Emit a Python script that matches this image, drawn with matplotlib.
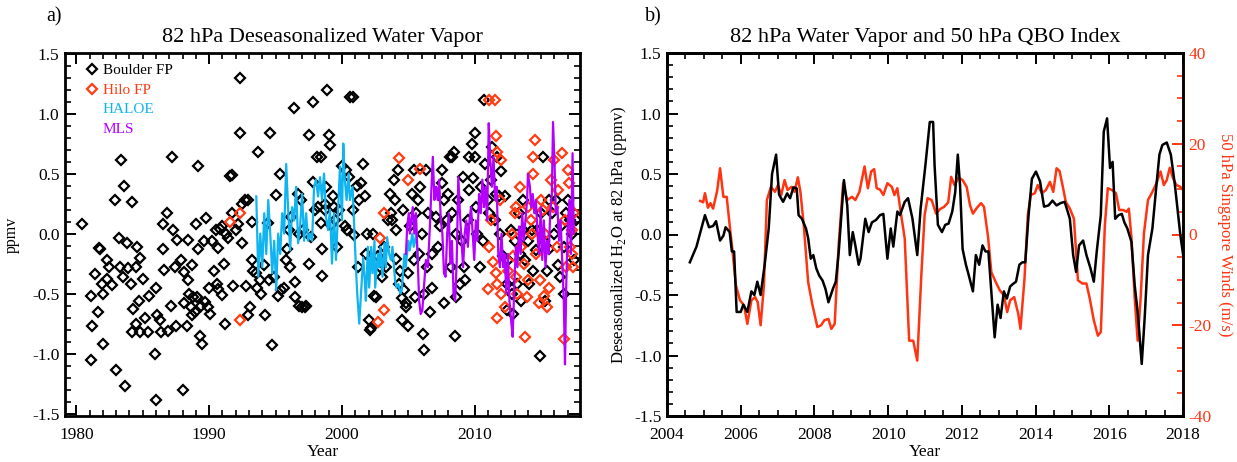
import matplotlib
matplotlib.use('Agg')
import matplotlib.pyplot as plt
from matplotlib.ticker import MultipleLocator, FormatStrFormatter
from matplotlib.lines import Line2D

plt.rcParams['font.family'] = ['Liberation Serif', 'DejaVu Serif']
plt.rcParams['mathtext.fontset'] = 'custom'
plt.rcParams['mathtext.rm'] = 'Liberation Serif'
plt.rcParams['axes.unicode_minus'] = False

# ---------------- data: panel a ----------------
boulder_fp = [
    (1980.4, 0.08), (1981.1, -1.05), (1981.1, -0.52), (1981.2, -0.77), (1981.4, -0.34), (1981.6, -0.65),
    (1981.7, -0.12), (1981.8, -0.13), (1981.9, -0.42), (1982.0, -0.50), (1982.0, -0.92), (1982.3, -0.22),
    (1982.3, -0.38), (1982.5, -0.28), (1982.7, -0.43), (1982.9, 0.28), (1983.0, -1.14), (1983.2, -0.04),
    (1983.3, -0.28), (1983.4, 0.61), (1983.5, -0.36), (1983.6, 0.40), (1983.7, -1.27), (1983.8, -0.08),
    (1983.9, -0.29), (1984.1, -0.42), (1984.2, 0.26), (1984.2, -0.82), (1984.3, -0.63), (1984.5, -0.75),
    (1984.5, -0.28), (1984.6, -0.11), (1984.7, -0.56), (1984.8, -0.20), (1984.8, -0.82), (1985.0, -0.38),
    (1985.2, -0.70), (1985.4, -0.82), (1985.5, -0.52), (1985.9, -1.00), (1986.0, -0.45), (1986.0, -1.39),
    (1986.1, -0.68), (1986.3, -0.72), (1986.4, -0.82), (1986.5, 0.08), (1986.5, -0.13), (1986.6, -0.30),
    (1986.8, 0.17), (1986.9, -0.81), (1987.1, -0.60), (1987.2, 0.64), (1987.3, 0.03), (1987.4, -0.28),
    (1987.5, -0.77), (1987.6, -0.05), (1987.9, -0.22), (1988.0, -1.30), (1988.1, -0.32), (1988.1, -0.58),
    (1988.3, -0.77), (1988.4, -0.05), (1988.4, -0.39), (1988.5, -0.50), (1988.6, -0.61), (1988.7, -0.26),
    (1988.7, -0.68), (1988.8, -0.53), (1988.9, -0.65), (1989.0, 0.08), (1989.1, -0.53), (1989.2, -0.13),
    (1989.2, 0.56), (1989.3, -0.85), (1989.4, -0.60), (1989.5, -0.92), (1989.6, -0.06), (1989.7, -0.57),
    (1989.8, 0.13), (1989.9, -0.61), (1990.0, -0.45), (1990.1, -0.67), (1990.2, -0.06), (1990.4, -0.31),
    (1990.5, 0.03), (1990.6, -0.42), (1990.7, -0.12), (1990.7, -0.46), (1990.8, 0.04), (1991.0, -0.51),
    (1991.0, 0.06), (1991.1, -0.25), (1991.2, -0.75), (1991.3, 0.00), (1991.4, -0.04), (1991.6, 0.48),
    (1991.7, 0.49), (1991.7, 0.17), (1991.8, -0.44), (1992.0, 0.03), (1992.2, 0.08), (1992.3, 1.30),
    (1992.3, 0.84), (1992.5, -0.08), (1992.5, 0.25), (1992.7, 0.28), (1992.8, -0.44), (1992.9, -0.68),
    (1992.9, 0.28), (1993.1, -0.61), (1993.2, -0.22), (1993.2, 0.10), (1993.3, -0.31), (1993.5, -0.33),
    (1993.6, -0.45), (1993.7, 0.68), (1993.8, -0.39), (1993.9, -0.50), (1994.1, -0.26), (1994.2, -0.68),
    (1994.4, 0.09), (1994.5, -0.39), (1994.6, 0.84), (1994.7, -0.93), (1994.9, -0.36), (1995.0, 0.32),
    (1995.2, -0.52), (1995.3, 0.50), (1995.4, -0.47), (1995.6, -0.45), (1995.8, -0.22), (1995.9, -0.13),
    (1996.0, 0.03), (1996.1, -0.28), (1996.2, 0.14), (1996.4, 1.05), (1996.5, -0.40), (1996.5, -0.53),
    (1996.7, 0.33), (1996.8, 0.00), (1996.8, -0.60), (1996.9, 0.28), (1997.0, -0.61), (1997.1, 0.03),
    (1997.2, -0.61), (1997.3, -0.60), (1997.5, -0.25), (1997.5, 0.82), (1997.7, -0.03), (1997.8, 1.10),
    (1997.8, 0.43), (1998.0, 0.20), (1998.1, 0.64), (1998.2, 0.22), (1998.4, 0.64), (1998.4, 0.09),
    (1998.5, -0.13), (1998.5, -0.35), (1998.7, 0.25), (1998.7, 0.20), (1998.8, 0.39), (1998.9, 1.20),
    (1999.0, 0.82), (1999.1, 0.74), (1999.2, 0.07), (1999.3, 0.31), (1999.4, 0.22), (1999.5, 0.11),
    (1999.6, -0.11), (1999.8, 0.20), (2000.0, 0.56), (2000.2, 0.06), (2000.3, 0.53), (2000.4, 0.03),
    (2000.5, 0.47), (2000.6, 1.14), (2000.8, 1.14), (2000.8, 0.20), (2000.9, -0.01), (2001.1, 0.40),
    (2001.2, -0.28), (2001.3, 0.28), (2001.4, 0.42), (2001.6, 0.58), (2001.7, 0.31), (2001.8, -0.17),
    (2001.9, 0.00), (2002.0, -0.72), (2002.1, -0.80), (2002.2, -0.79), (2002.3, 0.00), (2002.4, -0.52),
    (2002.6, -0.53), (2002.7, -0.19), (2002.9, -0.28), (2003.0, -0.36), (2003.2, -0.11), (2003.3, -0.28),
    (2003.5, 0.11), (2003.6, 0.33), (2003.7, 0.17), (2003.8, 0.11), (2003.9, 0.45), (2004.0, 0.28),
    (2004.1, 0.03), (2004.1, -0.21), (2004.2, 0.53), (2004.3, -0.42), (2004.4, -0.31), (2004.5, -0.54),
    (2004.5, -0.72), (2004.6, 0.20), (2004.7, -0.47), (2004.8, -0.61), (2004.8, -0.58), (2005.0, -0.77),
    (2005.0, -0.33), (2005.1, 0.06), (2005.3, 0.33), (2005.4, -0.22), (2005.4, 0.53), (2005.5, -0.53),
    (2005.6, 0.17), (2005.7, 0.28), (2005.8, -0.17), (2005.9, 0.39), (2006.0, 0.00), (2006.1, -0.84),
    (2006.2, -0.50), (2006.2, -0.97), (2006.3, 0.53), (2006.4, -0.28), (2006.5, 0.17), (2006.6, -0.65),
    (2006.8, -0.17), (2006.8, -0.45), (2007.1, 0.14), (2007.2, -0.11), (2007.4, 0.06), (2007.5, 0.53),
    (2007.5, 0.42), (2007.7, 0.28), (2007.7, -0.58), (2007.9, 0.11), (2008.0, 0.33), (2008.1, 0.64),
    (2008.2, -0.28), (2008.3, 0.17), (2008.3, 0.64), (2008.4, 0.68), (2008.5, -0.85), (2008.6, -0.53),
    (2008.6, 0.00), (2008.7, 0.28), (2008.9, -0.42), (2009.0, -0.06), (2009.1, 0.47), (2009.2, -0.28),
    (2009.3, -0.39), (2009.5, 0.11), (2009.6, 0.64), (2009.6, 0.36), (2009.8, 0.75), (2009.9, 0.46),
    (2010.0, 0.64), (2010.0, 0.84), (2010.1, 0.22), (2010.2, 0.00), (2010.4, -0.28), (2010.5, 0.39),
    (2010.6, -0.06), (2010.7, 1.11), (2010.8, 0.58), (2011.0, 0.28), (2011.1, 0.17), (2011.2, 0.45),
    (2011.3, 0.72), (2011.5, 0.11), (2011.6, 0.33), (2011.7, 0.64), (2011.8, 0.31), (2011.9, 0.00),
    (2012.0, 0.52), (2012.1, -0.19), (2012.3, 0.31), (2012.4, -0.42), (2012.4, -0.64), (2012.5, -0.22),
    (2012.7, 0.03), (2012.8, -0.50), (2012.9, -0.67), (2013.0, -0.06), (2013.2, -0.42), (2013.3, 0.17),
    (2013.4, -0.17), (2013.5, -0.56), (2013.6, 0.03), (2013.6, 0.28), (2013.8, -0.22), (2014.0, -0.06),
    (2014.1, -0.42), (2014.3, 0.03), (2014.4, -0.31), (2014.6, -0.14), (2014.7, 0.03), (2014.9, -1.02),
    (2015.0, 0.17), (2015.1, 0.64), (2015.2, -0.06), (2015.3, -0.56), (2015.4, -0.31), (2015.6, -0.13),
    (2015.6, 0.28), (2015.8, 0.17), (2016.0, 0.00), (2016.1, 0.28), (2016.3, -0.26), (2016.4, -0.36),
    (2016.5, 0.06), (2016.7, -0.11), (2016.7, -0.50), (2016.9, 0.17), (2017.0, 0.28), (2017.2, 0.11),
    (2017.3, 0.00), (2017.5, -0.22), (2017.6, 0.11),
]

hilo_fp = [
    (1991.6, 0.10), (1992.3, 0.17), (1992.3, -0.72), (2002.7, -0.74), (2002.9, -0.04), (2003.2, -0.64),
    (2003.2, 0.17), (2004.3, 0.63), (2005.0, 0.45), (2005.9, 0.54), (2011.0, -0.46), (2011.1, 1.11),
    (2011.1, -0.11), (2011.2, 0.11), (2011.4, -0.24), (2011.5, 1.11), (2011.6, 0.81), (2011.6, -0.33),
    (2011.7, 0.68), (2011.7, -0.42), (2011.7, -0.70), (2011.9, 0.28), (2012.0, 0.61), (2012.0, -0.50),
    (2012.3, -0.61), (2012.5, -0.31), (2012.8, 0.00), (2012.9, -0.19), (2013.0, 0.17), (2013.1, 0.22),
    (2013.1, -0.36), (2013.2, -0.50), (2013.4, 0.39), (2013.5, -0.11), (2013.7, -0.25), (2013.8, -0.86),
    (2013.9, -0.53), (2014.0, -0.39), (2014.0, 0.22), (2014.2, 0.11), (2014.3, 0.00), (2014.4, 0.50),
    (2014.4, 0.64), (2014.5, 0.78), (2014.6, -0.17), (2014.8, -0.58), (2014.9, -0.39), (2015.0, 0.28),
    (2015.1, 0.20), (2015.2, -0.52), (2015.3, 0.00), (2015.4, -0.61), (2015.6, -0.45), (2015.7, 0.45),
    (2015.9, 0.22), (2016.0, 0.61), (2016.2, -0.11), (2016.3, 0.36), (2016.6, 0.67), (2016.7, -0.88),
    (2016.8, 0.11), (2016.9, -0.28), (2017.0, 0.53), (2017.1, 0.42), (2017.2, -0.11), (2017.3, -0.17),
    (2017.3, 0.03), (2017.4, -0.28), (2017.5, 0.17),
]

haloe = [
    (1993.55, 0.31), (1993.70, -0.36), (1993.85, 0.00), (1994.00, -0.28), (1994.15, 0.17), (1994.30, -0.17),
    (1994.45, 0.28), (1994.60, 0.00), (1994.75, -0.33), (1994.90, -0.06), (1995.05, -0.47), (1995.20, 0.00),
    (1995.35, -0.17), (1995.50, 0.17), (1995.65, 0.00), (1995.80, 0.58), (1995.95, 0.20), (1996.10, -0.14),
    (1996.25, 0.22), (1996.40, 0.11), (1996.55, 0.39), (1996.70, -0.08), (1996.85, 0.06), (1997.00, 0.33),
    (1997.15, -0.06), (1997.30, 0.17), (1997.45, -0.06), (1997.60, 0.00), (1997.75, -0.06), (1997.90, 0.39),
    (1998.05, 0.45), (1998.20, 0.31), (1998.35, 0.47), (1998.50, 0.28), (1998.65, 0.50), (1998.80, 0.14),
    (1998.95, 0.03), (1999.10, 0.20), (1999.25, -0.25), (1999.40, 0.17), (1999.55, -0.22), (1999.70, 0.17),
    (1999.85, 0.56), (2000.00, 0.11), (2000.10, 0.75), (2000.20, 0.47), (2000.35, 0.28), (2000.50, 0.50),
    (2000.60, 0.28), (2000.80, 0.39), (2000.90, 0.11), (2001.05, -0.28), (2001.15, -0.50), (2001.30, -0.75),
    (2001.45, -0.47), (2001.60, -0.20), (2001.70, -0.36), (2001.80, -0.56), (2001.95, -0.11), (2002.05, -0.45),
    (2002.20, -0.11), (2002.30, -0.33), (2002.45, -0.06), (2002.50, -0.45), (2002.70, -0.17), (2002.80, -0.28),
    (2002.90, -0.11), (2003.05, -0.36), (2003.20, -0.08), (2003.30, -0.28), (2003.40, -0.03), (2003.55, -0.17),
    (2003.70, -0.22), (2003.80, -0.11), (2004.00, -0.39), (2004.10, -0.45), (2004.25, -0.42), (2004.40, -0.50),
    (2004.50, -0.47), (2004.70, -0.17), (2004.80, -0.28), (2005.00, -0.06), (2005.10, -0.14), (2005.30, 0.00),
    (2005.40, -0.11), (2005.60, 0.00), (2005.70, -0.22),
]

mls = [
    (2004.82, -0.17), (2004.91, 0.06), (2005.03, 0.17), (2005.12, 0.00), (2005.21, 0.11), (2005.33, 0.22),
    (2005.45, 0.00), (2005.57, 0.17), (2005.69, -0.17), (2005.81, -0.56), (2005.93, -0.67), (2006.05, -0.64),
    (2006.17, -0.45), (2006.32, -0.22), (2006.47, -0.28), (2006.62, 0.06), (2006.71, 0.31), (2006.84, 0.64),
    (2006.96, 0.28), (2007.08, 0.39), (2007.20, 0.28), (2007.32, 0.45), (2007.44, 0.11), (2007.56, 0.00),
    (2007.68, -0.33), (2007.80, -0.36), (2007.92, 0.00), (2008.04, 0.17), (2008.16, -0.25), (2008.28, -0.06),
    (2008.40, -0.50), (2008.52, -0.56), (2008.64, -0.22), (2008.76, 0.47), (2008.88, 0.17), (2009.00, -0.06),
    (2009.12, -0.28), (2009.24, 0.00), (2009.36, 0.11), (2009.48, -0.11), (2009.60, 0.11), (2009.72, 0.22),
    (2009.84, 0.00), (2009.96, -0.22), (2010.08, 0.11), (2010.20, -0.06), (2010.32, 0.33), (2010.45, 0.17),
    (2010.57, 0.45), (2010.69, 0.22), (2010.81, 0.39), (2010.93, 0.11), (2011.05, 0.92), (2011.17, 0.61),
    (2011.29, 0.39), (2011.41, 0.64), (2011.53, 0.28), (2011.65, 0.39), (2011.77, -0.17), (2011.89, -0.28),
    (2012.01, 0.00), (2012.13, -0.28), (2012.25, -0.17), (2012.37, -0.50), (2012.49, -0.17), (2012.61, -0.56),
    (2012.73, -0.72), (2012.85, -0.86), (2012.97, -0.45), (2013.09, -0.11), (2013.21, -0.28), (2013.33, 0.06),
    (2013.45, -0.17), (2013.57, 0.17), (2013.69, -0.06), (2013.81, 0.11), (2013.94, 0.28), (2014.00, 0.50),
    (2014.15, 0.39), (2014.24, 0.22), (2014.36, 0.33), (2014.48, 0.17), (2014.60, 0.28), (2014.72, 0.00),
    (2014.84, -0.17), (2014.96, 0.22), (2015.08, -0.22), (2015.20, 0.11), (2015.32, -0.28), (2015.44, -0.06),
    (2015.56, -0.17), (2015.68, 0.17), (2015.80, 0.33), (2015.89, 0.93), (2016.01, 0.56), (2016.10, 0.17),
    (2016.22, 0.22), (2016.34, -0.06), (2016.46, 0.11), (2016.58, -0.22), (2016.70, -0.56), (2016.79, -1.09),
    (2016.88, -0.45), (2017.00, 0.06), (2017.12, 0.28), (2017.24, -0.17), (2017.36, 0.67), (2017.45, 0.00),
]

# ---------------- data: panel b ----------------
wv_82hpa = [
    (2004.62, -0.23), (2004.80, -0.10), (2005.03, 0.16), (2005.14, 0.06), (2005.25, 0.07), (2005.33, 0.11),
    (2005.44, -0.05), (2005.53, -0.01), (2005.59, 0.06), (2005.70, 0.02), (2005.76, -0.14), (2005.82, -0.14),
    (2005.89, -0.64), (2006.00, -0.64), (2006.07, -0.58), (2006.18, -0.64), (2006.29, -0.47), (2006.37, -0.50),
    (2006.45, -0.39), (2006.54, -0.50), (2006.65, -0.25), (2006.76, 0.05), (2006.85, 0.50), (2006.96, 0.66),
    (2007.04, 0.33), (2007.15, 0.27), (2007.26, 0.34), (2007.34, 0.30), (2007.43, 0.39), (2007.52, 0.38),
    (2007.57, 0.16), (2007.66, 0.13), (2007.77, 0.05), (2007.83, -0.03), (2007.90, -0.20), (2007.97, -0.17),
    (2008.05, -0.28), (2008.13, -0.34), (2008.22, -0.38), (2008.30, -0.45), (2008.38, -0.56), (2008.50, -0.45),
    (2008.58, -0.39), (2008.66, -0.14), (2008.80, 0.45), (2008.89, 0.24), (2008.96, -0.17), (2009.04, 0.02),
    (2009.11, -0.09), (2009.20, -0.25), (2009.25, -0.20), (2009.38, 0.13), (2009.47, 0.02), (2009.56, 0.10),
    (2009.67, 0.12), (2009.78, 0.16), (2009.87, 0.17), (2009.98, -0.20), (2010.07, 0.05), (2010.14, -0.10),
    (2010.25, 0.19), (2010.32, 0.16), (2010.45, 0.27), (2010.54, 0.30), (2010.66, 0.13), (2010.79, -0.17),
    (2010.88, 0.21), (2011.01, 0.57), (2011.13, 0.93), (2011.22, 0.93), (2011.26, 0.57), (2011.35, 0.08),
    (2011.46, 0.02), (2011.55, 0.08), (2011.64, 0.09), (2011.74, 0.19), (2011.82, 0.35), (2011.89, 0.66),
    (2011.95, 0.41), (2012.02, -0.12), (2012.11, -0.25), (2012.19, -0.34), (2012.30, -0.47), (2012.38, -0.17),
    (2012.47, -0.25), (2012.56, -0.09), (2012.64, -0.14), (2012.72, -0.14), (2012.80, -0.47), (2012.89, -0.85),
    (2012.97, -0.58), (2013.05, -0.69), (2013.14, -0.47), (2013.22, -0.53), (2013.31, -0.43), (2013.38, -0.41),
    (2013.47, -0.39), (2013.56, -0.25), (2013.64, -0.23), (2013.72, -0.23), (2013.81, 0.16), (2013.90, 0.46),
    (2014.01, 0.52), (2014.12, 0.44), (2014.23, 0.23), (2014.35, 0.24), (2014.46, 0.28), (2014.57, 0.24),
    (2014.68, 0.26), (2014.79, 0.27), (2014.87, 0.19), (2014.93, 0.13), (2015.02, -0.17), (2015.10, -0.31),
    (2015.18, -0.09), (2015.29, -0.05), (2015.38, -0.17), (2015.49, -0.28), (2015.58, -0.39), (2015.66, -0.14),
    (2015.77, 0.16), (2015.85, 0.85), (2015.94, 0.96), (2016.02, 0.55), (2016.09, 0.60), (2016.16, 0.13),
    (2016.25, 0.16), (2016.34, 0.17), (2016.41, 0.10), (2016.49, 0.05), (2016.60, -0.06), (2016.69, -0.42),
    (2016.78, -0.67), (2016.88, -1.07), (2016.96, -0.69), (2017.05, -0.17), (2017.17, 0.05), (2017.28, 0.41),
    (2017.36, 0.66), (2017.44, 0.74), (2017.56, 0.76), (2017.67, 0.66), (2017.78, 0.41), (2017.86, 0.19),
    (2017.93, -0.01), (2018.00, -0.16),
]

qbo_50hpa = [
    (2004.90, 7.4), (2004.98, 7.1), (2005.03, 9.1), (2005.11, 5.9), (2005.18, 6.9), (2005.25, 5.7),
    (2005.36, 9.6), (2005.44, 14.6), (2005.53, 8.3), (2005.62, 8.3), (2005.70, 2.1), (2005.78, -3.8),
    (2005.87, -11.2), (2005.98, -14.5), (2006.09, -15.6), (2006.18, -19.7), (2006.29, -14.5), (2006.39, -13.8),
    (2006.46, -14.9), (2006.54, -20.0), (2006.63, -11.2), (2006.71, 7.6), (2006.82, 10.5), (2006.93, 9.4),
    (2007.01, 10.9), (2007.10, 8.7), (2007.19, 12.0), (2007.27, 9.8), (2007.38, 10.5), (2007.46, 9.4),
    (2007.55, 12.6), (2007.62, 9.4), (2007.71, 2.1), (2007.83, -10.5), (2007.94, -15.3), (2007.99, -17.1),
    (2008.08, -20.4), (2008.18, -20.0), (2008.27, -18.9), (2008.38, -18.6), (2008.46, -20.8), (2008.55, -19.7),
    (2008.66, -2.0), (2008.78, 11.3), (2008.89, 7.6), (2009.02, 8.3), (2009.11, 7.6), (2009.22, 9.4),
    (2009.36, 15.0), (2009.45, 10.2), (2009.54, 13.9), (2009.62, 14.4), (2009.69, 10.2), (2009.78, 9.9),
    (2009.87, 8.7), (2009.98, 11.3), (2010.10, 10.5), (2010.17, 8.7), (2010.25, 10.2), (2010.34, 5.0),
    (2010.45, -0.9), (2010.57, -23.4), (2010.68, -23.4), (2010.79, -27.8), (2010.90, -9.0), (2010.99, 4.3),
    (2011.07, 8.0), (2011.18, 7.6), (2011.30, 4.6), (2011.41, 5.6), (2011.52, 6.1), (2011.63, 7.1),
    (2011.71, 12.7), (2011.80, 10.9), (2011.91, 12.5), (2012.02, 12.0), (2012.13, 10.5), (2012.22, 6.5),
    (2012.30, 4.6), (2012.41, 5.9), (2012.52, 6.9), (2012.60, 6.1), (2012.71, -0.5), (2012.80, -8.3),
    (2012.92, -10.5), (2013.03, -12.3), (2013.14, -13.4), (2013.23, -17.1), (2013.31, -14.5), (2013.42, -13.8),
    (2013.53, -17.5), (2013.59, -20.8), (2013.70, -9.7), (2013.79, 4.3), (2013.87, 8.7), (2013.98, 9.1),
    (2014.06, 10.9), (2014.17, 9.1), (2014.28, 9.8), (2014.39, 11.6), (2014.48, 9.4), (2014.57, 14.6),
    (2014.65, 14.0), (2014.73, 10.9), (2014.82, 7.2), (2014.93, 5.7), (2015.04, 3.5), (2015.15, -10.1),
    (2015.27, -10.8), (2015.38, -10.8), (2015.47, -14.1), (2015.58, -18.9), (2015.69, -22.3), (2015.77, -21.5),
    (2015.88, 2.1), (2015.96, 10.2), (2016.07, 9.8), (2016.18, 9.1), (2016.27, 5.4), (2016.38, 5.4),
    (2016.47, 5.0), (2016.53, 5.7), (2016.60, -0.5), (2016.69, -14.1), (2016.77, -23.4), (2016.85, -14.1),
    (2016.94, 0.2), (2017.05, 7.6), (2017.17, 9.4), (2017.28, 11.3), (2017.39, 13.9), (2017.48, 10.9),
    (2017.56, 12.0), (2017.64, 14.7), (2017.73, 12.4), (2017.82, 10.9), (2017.93, 10.5), (2018.00, 9.8),
]

legend_labels = ['Boulder FP', 'Hilo FP', 'HALOE', 'MLS']
left_xticks = [1980, 1990, 2000, 2010]
right_xticks = [2004, 2006, 2008, 2010, 2012, 2014, 2016, 2018]

C_BOULDER = '#000000'
C_HILO = '#ff3c14'
C_HALOE = '#10b4f0'
C_MLS = '#b400ff'
C_QBO = '#ff3412'


def split(pairs):
    return [p[0] for p in pairs], [p[1] for p in pairs]


def style(ax, right=True, top=True):
    ax.tick_params(which='both', direction='in', top=top, right=right, labelsize=12.5)
    ax.tick_params(axis='x', which='both', pad=8)
    ax.tick_params(axis='y', which='both', pad=4)
    ax.tick_params(which='major', length=8, width=1.4)
    ax.tick_params(which='minor', length=4, width=1.2)
    for s in ax.spines.values():
        s.set_linewidth(2)


fig = plt.figure(figsize=(12.37, 4.62), dpi=100)

# ---------------- panel a ----------------
ax1 = fig.add_axes([65 / 1237, 46 / 462, 515 / 1237, 363 / 462])
bx, by = split(boulder_fp)
hx, hy = split(hilo_fp)
ax_, ay_ = split(haloe)
mx, my = split(mls)
ax1.plot(bx, by, ls='none', marker='D', ms=5.2, mfc='none', mec=C_BOULDER, mew=1.6)
ax1.plot(hx, hy, ls='none', marker='D', ms=5.2, mfc='none', mec=C_HILO, mew=1.6)
ax1.plot(ax_, ay_, color=C_HALOE, lw=1.6)
ax1.plot(mx, my, color=C_MLS, lw=1.6)
ax1.set_xlim(1979.15, 2017.92)
ax1.set_ylim(-1.52, 1.505)
ax1.set_xticks(left_xticks)
ax1.xaxis.set_minor_locator(MultipleLocator(1))
ax1.yaxis.set_major_locator(MultipleLocator(0.5))
ax1.yaxis.set_minor_locator(MultipleLocator(0.1))
ax1.yaxis.set_major_formatter(FormatStrFormatter('%.1f'))
style(ax1)
ax1.set_xlabel('Year', fontsize=12.5, labelpad=1)
ax1.set_ylabel('ppmv', fontsize=11.5, labelpad=9)
ax1.set_title('82 hPa Deseasonalized Water Vapor', fontsize=16, pad=8)

handles = [
    Line2D([], [], ls='none', marker='D', ms=5.2, mfc='none', mec=C_BOULDER, mew=1.6),
    Line2D([], [], ls='none', marker='D', ms=5.2, mfc='none', mec=C_HILO, mew=1.6),
    Line2D([], [], ls='none'),
    Line2D([], [], ls='none'),
]
ax1.legend(handles, legend_labels, loc='upper left', frameon=False, fontsize=11,
           labelcolor=[C_BOULDER, C_HILO, C_HALOE, C_MLS], handlelength=0.8,
           handletextpad=0.3, labelspacing=0.38, borderaxespad=0.3,
           bbox_to_anchor=(0.02, 1.0))

fig.text(46 / 1237, 1 - 17 / 462, 'a)', fontsize=14.5, va='center', ha='left')

# ---------------- panel b ----------------
ax2 = fig.add_axes([667 / 1237, 46 / 462, 516 / 1237, 363 / 462])
wx, wy = split(wv_82hpa)
qx, qy = split(qbo_50hpa)
ax2.plot(wx, wy, color='black', lw=1.8, zorder=3)
ax2.set_xlim(2004, 2018)
ax2.set_ylim(-1.5, 1.5)
ax2.set_xticks(right_xticks)
ax2.xaxis.set_minor_locator(MultipleLocator(0.5))
ax2.yaxis.set_major_locator(MultipleLocator(0.5))
ax2.yaxis.set_minor_locator(MultipleLocator(0.1))
ax2.yaxis.set_major_formatter(FormatStrFormatter('%.1f'))
style(ax2, right=False)
ax2.set_xlabel('Year', fontsize=12.5, labelpad=1)
ax2.set_ylabel('Deseasonalized H$_{\\mathrm{2}}$O at 82 hPa (ppmv)', fontsize=12, labelpad=4)
ax2.set_title('82 hPa Water Vapor and 50 hPa QBO Index', fontsize=16, pad=8)

axr = ax2.twinx()
axr.plot(qx, qy, color=C_QBO, lw=1.8, zorder=2)
axr.set_ylim(-40, 40)
axr.yaxis.set_major_locator(MultipleLocator(20))
axr.yaxis.set_minor_locator(MultipleLocator(5))
axr.tick_params(axis='y', which='both', direction='in', colors=C_QBO, labelsize=12.5, pad=4)
axr.tick_params(axis='y', which='major', length=8, width=1.4)
axr.tick_params(axis='y', which='minor', length=4, width=1.2)
for s in axr.spines.values():
    s.set_linewidth(2)
axr.spines['right'].set_color(C_QBO)
axr.set_ylabel('50 hPa Singapore Winds (m/s)', color=C_QBO, fontsize=12, rotation=270, labelpad=15)
ax2.set_zorder(axr.get_zorder() + 1)
ax2.patch.set_visible(False)

fig.text(645 / 1237, 1 - 17 / 462, 'b)', fontsize=14.5, va='center', ha='left')

fig.savefig('out.png', dpi=100)
